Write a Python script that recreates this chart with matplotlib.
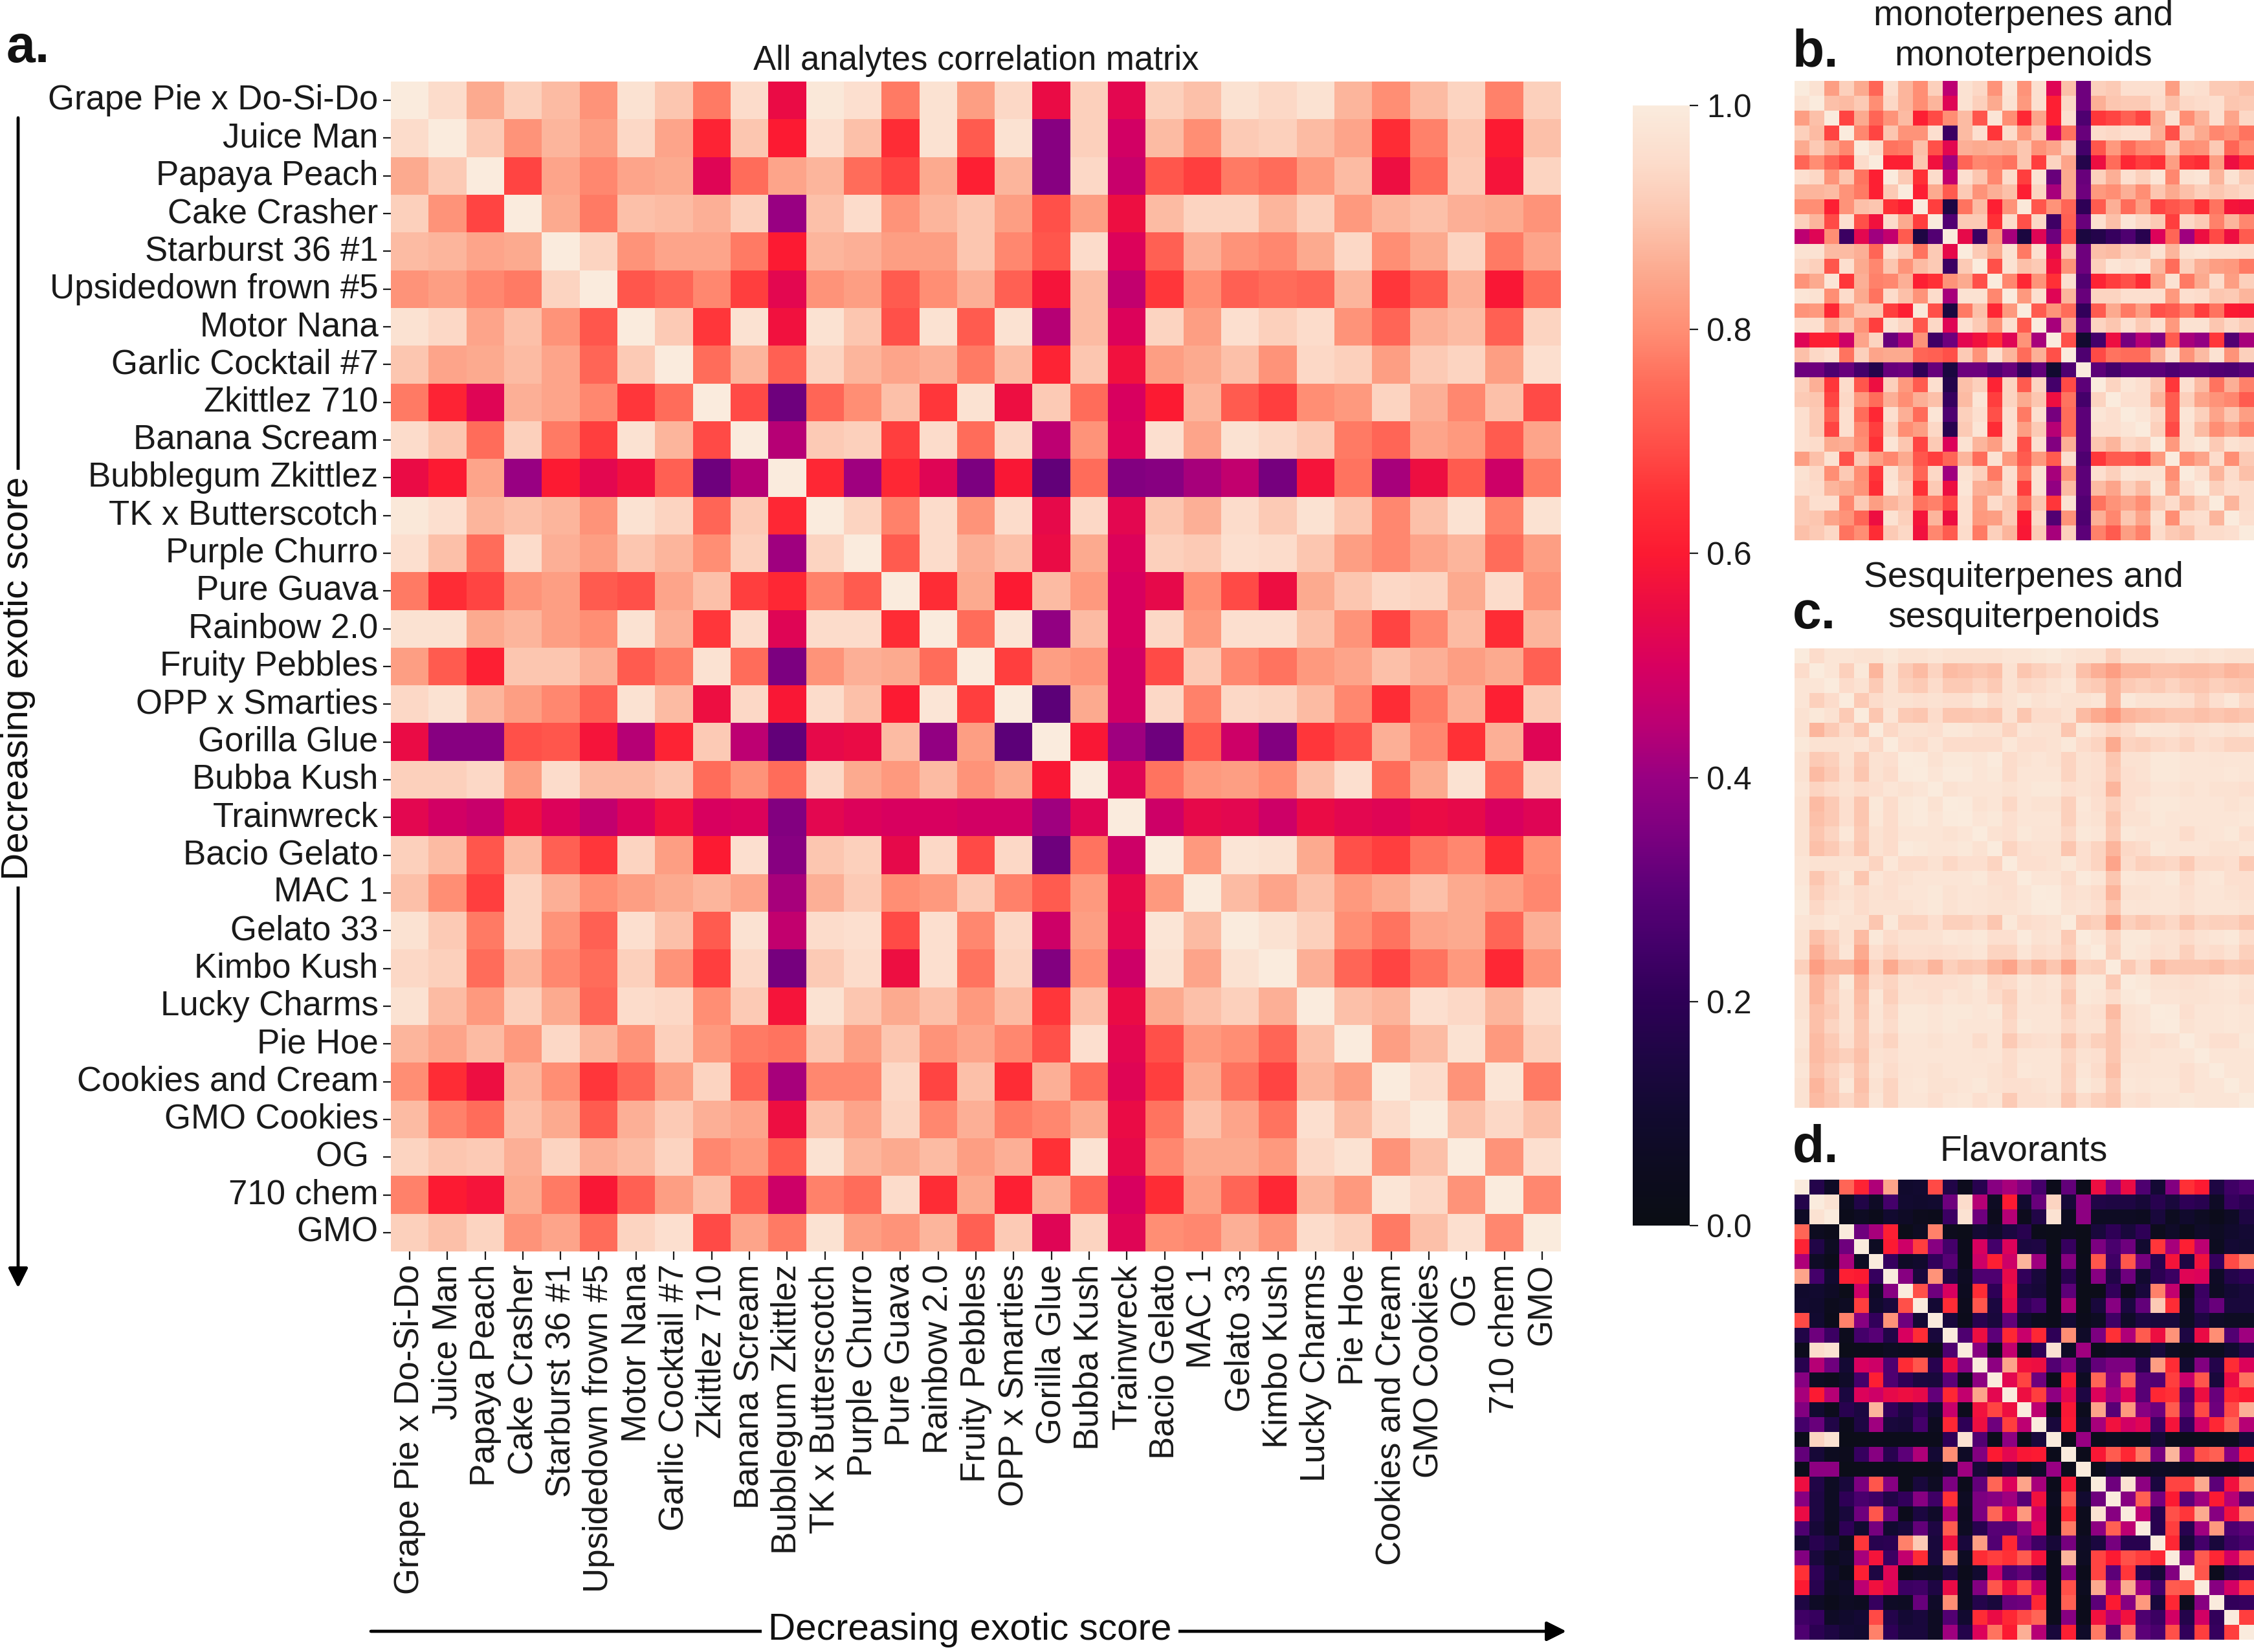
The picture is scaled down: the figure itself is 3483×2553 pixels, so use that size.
import matplotlib
matplotlib.use('Agg')
import matplotlib.pyplot as plt
from matplotlib.colors import LinearSegmentedColormap
import numpy as np
import seaborn as sns

plt.rcParams['font.family'] = ['Liberation Sans', 'DejaVu Sans']

strains = ['Grape Pie x Do-Si-Do', 'Juice Man', 'Papaya Peach', 'Cake Crasher', 'Starburst 36 #1',
           'Upsidedown frown #5', 'Motor Nana', 'Garlic Cocktail #7', 'Zkittlez 710', 'Banana Scream',
           'Bubblegum Zkittlez', 'TK x Butterscotch', 'Purple Churro', 'Pure Guava', 'Rainbow 2.0',
           'Fruity Pebbles', 'OPP x Smarties', 'Gorilla Glue', 'Bubba Kush', 'Trainwreck',
           'Bacio Gelato', 'MAC 1', 'Gelato 33', 'Kimbo Kush', 'Lucky Charms', 'Pie Hoe',
           'Cookies and Cream', 'GMO Cookies', 'OG ', '710 chem', 'GMO']

# upper triangles, percent, each row starts on the diagonal
all_upper = [
[100,95,85,92,88,81,97,90,77,95,55,99,96,77,97,83,94,55,92,53,92,89,97,94,97,87,80,88,93,78,92],
[100,91,81,87,83,94,84,62,90,60,96,89,64,97,72,97,37,92,49,88,80,91,92,88,84,64,78,90,60,89],
[100,68,84,79,84,85,52,75,84,87,75,68,85,61,87,37,94,47,71,67,77,75,82,88,56,75,91,58,93],
[100,85,77,89,88,86,92,40,89,95,81,87,90,83,70,83,56,88,93,93,87,92,82,87,89,86,85,81],
[100,93,81,84,84,77,60,87,86,83,83,90,79,71,95,51,73,86,81,79,85,94,80,85,93,77,84],
[100,71,74,79,67,53,81,83,72,80,86,73,58,88,46,66,80,73,75,74,87,66,72,86,59,75],
[100,91,66,97,57,97,90,70,97,72,97,44,88,51,93,83,96,92,95,81,74,86,88,73,93],
[100,75,87,73,93,87,84,86,77,88,62,90,57,83,85,89,81,94,92,83,91,93,83,96],
[100,69,33,74,80,89,66,97,56,91,75,50,60,87,72,67,80,82,93,86,79,89,69],
[100,44,91,92,67,95,75,94,45,81,51,96,84,97,94,91,77,74,84,82,72,84],
[100,63,41,63,52,35,59,31,75,36,37,42,46,34,58,76,42,56,72,48,77],
[100,93,78,95,81,95,54,94,53,90,86,95,91,97,90,79,89,97,78,97],
[100,72,95,86,89,55,85,51,92,91,96,95,90,83,79,84,87,75,83],
[100,64,85,60,88,82,50,54,80,69,56,85,90,94,93,85,95,81],
[100,75,98,39,88,50,94,82,96,96,89,81,68,79,88,64,87],
[100,67,83,81,49,69,91,79,76,82,84,89,86,83,85,73],
[100,30,85,49,94,78,94,93,88,79,64,77,86,61,91],
[100,59,41,33,72,48,36,66,70,86,79,65,86,52],
[100,52,76,82,83,80,89,96,75,85,97,74,93],
[100,48,54,53,48,55,53,52,55,54,50,52],
[100,82,98,97,85,70,67,76,79,64,80],
[100,88,84,89,82,85,89,85,83,79],
[100,97,92,80,76,84,85,74,86],
[100,86,74,68,76,82,63,81],
[100,89,87,96,94,87,95],
[100,83,88,97,82,92],
[100,95,81,98,77],
[100,89,94,89],
[100,81,96],
[100,79],
[100],
]

mono_upper = [
[100,97,83,92,85,74,96,87,80,92,45,97,94,81,98,81,96,52,89,33,92,91,96,96,96,83,97,96,91,91,89],
[100,89,88,91,80,94,87,80,87,52,97,92,85,97,82,96,61,94,33,86,90,91,91,95,89,94,95,96,90,91],
[100,68,85,74,81,88,61,69,80,88,71,98,80,63,84,61,96,27,66,68,73,68,85,97,80,87,96,84,94],
[100,79,68,90,81,81,96,23,88,96,66,95,82,90,48,76,32,95,94,96,96,86,70,91,85,79,81,76],
[100,95,76,77,89,70,53,86,85,86,85,90,81,84,92,25,71,82,75,79,80,91,80,81,91,74,80],
[100,61,61,90,57,41,74,79,78,76,90,67,93,84,17,56,75,63,67,65,83,66,64,83,56,64],
[100,91,65,95,46,96,90,79,95,67,97,32,85,32,92,86,96,92,98,79,97,98,87,97,91],
[100,61,85,72,91,81,86,89,61,93,42,85,33,82,80,86,80,90,85,89,92,90,92,94],
[100,67,15,76,88,61,81,99,71,81,74,20,72,86,75,83,68,71,74,65,76,58,57],
[100,28,91,91,65,95,70,94,24,73,32,96,89,98,94,91,67,94,91,78,87,79],
[100,54,23,81,42,14,52,33,70,14,17,22,27,18,51,74,41,56,69,56,72],
[100,91,85,97,77,96,53,91,33,89,88,92,91,97,87,97,98,96,96,95],
[100,70,97,89,91,57,81,33,92,98,96,98,87,75,92,86,83,82,77],
[100,79,63,81,65,96,28,62,67,70,64,83,97,77,85,95,83,92],
[100,82,96,52,87,32,93,93,96,96,96,82,96,95,90,91,87],
[100,72,81,75,21,72,85,77,83,70,72,77,67,76,60,59],
[100,42,86,31,93,90,96,91,96,82,97,97,90,94,91],
[100,70,10,25,56,34,44,36,72,42,39,66,28,42],
[100,27,69,76,75,75,86,96,81,88,97,81,92],
[100,30,25,30,30,30,27,30,30,28,27,30],
[100,93,98,96,90,66,96,88,76,86,78],
[100,96,96,87,72,92,84,81,79,72],
[100,98,94,72,98,92,84,90,83],
[100,92,69,97,88,80,84,78],
[100,82,97,99,91,97,95],
[100,80,84,95,80,91],
[100,96,87,95,89],
[100,92,96,95],
[100,87,95],
[100,96],
[100],
]

sesq_upper = [
[100,95,98,98,97,97,99,97,97,98,97,97,97,97,98,98,99,99.5,98,97,97,92,97,97,97,98,98,97,98,97,97],
[100,98,92,99,87,97,91,88,93,88,89,90,89,97,90,92,94,97,89,86,83,87,87,89,89,88,88,89,87,88],
[100,95,97,91,97,92,91,95,91,91,93,91,97,94,95,97,98.5,92,91,87,91,92,91,93,91,90,92,91,90],
[100,91,95,97,97,96,97,96,96,98.5,95,97,99,97,98,97,97,98,87,99,97,97,97,96,92,96,98.5,94],
[100,90,98,91,90,95,90,90,91,90,97,90,95,95,97,88,85,82,87,88,89,90,90,89,90,89,90],
[100,94,97,97,96,99,98.5,97,97,93,98,97,97,90,99,96,93,95,98.5,98,98,96,97,98,97,98],
[100,96,95,98,95,95,95,95,98.5,96,96,97,99,95,93,85,93,92,94,95,93,96,95,93,93],
[100,99.5,97,99,99,98,99.5,95,97,98,97,93,97,96,90,97,97,99,99,98,98,97.5,98,98],
[100,98,99.5,99.5,98,99,95,98,98,98,93,97,96,91,96,97,99,99,98,98,98,98.5,98],
[100,97,98,98,98,97,98,99,99,96,97,95.5,87,96,96,98,98,97,98,97,97,96],
[100,99.5,97,98,94,98,97,97,92,98.5,96,92,96,98,99,99,98,98,98,97,98],
[100,98,99,96,98,98,98,92,98,97,90,97,97,99,98,98,98,98,98,98.5],
[100,97,96,99,97.5,97.5,94,99,98,91,99,98,98,98,95,97.5,98,99,96],
[100,93,96,97,97,90,96,93,87,94,95,99,98,98,98,97,97,98],
[100,96,96,97,99,96,93,84,95,92,93,94,91,95,95,96,91],
[100,98,98,95,99.5,98,90,98.5,98,98,99,95,98,98.5,96,96],
[100,99.5,96,97,95,87,97,97,98,98,96,98,98,97,96],
[100,97,97.5,96,90,98,97.5,98,98,96.5,98,98,98,97],
[100,91,92,84,92,90,92,94,90,93,92,92.5,90],
[100,98,93,99,99,97,97,95,97,98,99,95],
[100,92,99,98,96,97,92,96,95,97,92],
[100,91,95,88,90,90,90,89,91,90],
[100,99,97,97,96,97,98,98.5,97],
[100,97.5,97.5,97,97,97.5,98,96],
[100,99.5,96,98,98,98.5,98],
[100,97,98,98,98.5,98],
[100,98,96,96,99],
[100,98,98,98],
[100,98,98],
[100,98],
[100],
]

flav_upper = [
[100,17,7,74,62,43,84,9,10,69,16,4,18,37,42,36,25,3,31,3,56,37,55,27,11,36,65,60,15,24,27],
[100,97,5,16,7,25,10,9,10,33,95,44,6,60,10,32,93,12,38,16,15,15,12,18,13,20,18,7,22,19],
[100,3,6,3,10,7,4,3,23,97,33,4,44,4,16,97,5,38,6,6,6,5,13,5,9,6,3,7,15],
[100,33,42,61,2,6,78,4,2,11,8,14,18,3,2,4,2,13,20,13,20,4,8,3,8,6,9,11],
[100,6,60,48,67,37,25,3,50,25,51,14,15,2,22,2,35,26,33,10,66,42,61,45,5,11,10],
[100,22,7,9,21,29,3,48,61,48,87,41,3,37,3,71,24,71,34,18,58,15,57,22,69,78],
[100,37,13,81,16,6,27,27,54,21,13,3,18,3,37,16,33,10,19,23,52,51,7,17,20],
[100,70,33,50,5,64,20,56,14,12,3,30,2,2,21,3,13,78,46,3,23,6,11,13],
[100,11,64,4,71,14,54,21,25,3,43,2,13,37,14,31,91,64,7,24,32,13,13],
[100,13,3,18,13,31,10,5,3,11,3,6,24,8,15,13,13,6,15,8,6,6],
[100,27,56,30,63,47,63,20,80,8,35,65,43,72,56,81,15,55,80,28,41],
[100,37,4,46,4,20,97,7,41,3,6,5,6,13,6,3,5,5,10,17],
[100,38,84,57,56,28,36,12,31,35,35,18,83,64,10,36,17,64,51],
[100,53,68,33,3,60,6,74,37,74,29,28,67,47,71,13,55,76],
[100,56,67,38,53,15,51,41,51,29,63,65,27,56,32,63,60],
[100,45,3,59,4,84,29,82,37,33,72,31,69,33,69,86],
[100,13,60,8,42,57,49,52,24,58,22,48,63,74,44],
[100,3,40,3,5,3,3,12,3,3,3,3,4,13],
[100,3,59,72,63,77,34,87,37,70,73,37,61],
[100,3,10,4,4,7,6,3,5,3,3,8],
[100,33,97,38,14,68,68,85,30,57,77],
[100,37,73,34,60,30,41,60,44,28],
[100,45,18,70,66,85,37,57,78],
[100,18,67,18,41,82,27,30],
[100,63,12,25,13,23,26],
[100,36,72,63,49,70],
[100,71,4,17,21],
[100,37,49,67],
[100,21,22],
[100,67],
[100],
]

W, H = 3483, 2553


def to_matrix(upper):
	n = len(upper)
	m = np.zeros((n, n))
	for i, row in enumerate(upper):
		m[i, i:] = row
		m[i:, i] = row
	return m / 100.0


def px_axes(left, top, right, bottom):
	return fig.add_axes([left / W, 1 - bottom / H, (right - left) / W, (bottom - top) / H])


# colours
stops = [(0.0, '#0b0d14'), (0.05, '#0d0c20'), (0.1, '#120a30'), (0.15, '#1e0644'), (0.2, '#2e0056'),
         (0.25, '#44006a'), (0.3, '#5c0078'), (0.35, '#7c0080'), (0.4, '#980082'), (0.45, '#bd0072'),
         (0.5, '#d80060'), (0.55, '#ea0b45'), (0.6, '#fc1a32'), (0.65, '#ff3036'), (0.7, '#ff5049'),
         (0.75, '#ff6b59'), (0.8, '#ff8e74'), (0.85, '#fca98e'), (0.9, '#fcc6b0'), (0.95, '#fcdccb'),
         (1.0, '#faebdd')]
cmap = LinearSegmentedColormap.from_list('printed_rocket', stops, N=512)

fig = plt.figure(figsize=(W / 100, H / 100), dpi=100)

#main heatmap
ax_a = px_axes(604, 126, 2412, 1934)
cax = px_axes(2523, 163, 2611, 1894)
sns.heatmap(to_matrix(all_upper), ax=ax_a, cmap=cmap, vmin=0, vmax=1, cbar_ax=cax,
            xticklabels=strains, yticklabels=strains)
ax_a.set_xticklabels(strains, rotation=90, fontsize=38)
ax_a.set_yticklabels(strains, rotation=0, fontsize=38)
ax_a.tick_params(axis='both', length=9, width=1.6, pad=5, color='#1a1a1a', labelcolor='#1a1a1a')
ax_a.set_title('All analytes correlation matrix', fontsize=38, color='#1a1a1a', pad=13)

cax.set_yticks([0, 0.2, 0.4, 0.6, 0.8, 1.0])
cax.set_yticklabels(['0.0', '0.2', '0.4', '0.6', '0.8', '1.0'], fontsize=36, color='#1a1a1a')
cax.tick_params(axis='y', length=9, width=1.6, pad=10, color='#1a1a1a')
for s in cax.spines.values():
	s.set_visible(False)

#small panels
ax_b = px_axes(2773, 125, 3483, 835)
ax_c = px_axes(2773, 1002, 3483, 1712)
ax_d = px_axes(2773, 1823, 3483, 2534)
for ax, upper in ((ax_b, mono_upper), (ax_c, sesq_upper), (ax_d, flav_upper)):
	sns.heatmap(to_matrix(upper), ax=ax, cmap=cmap, vmin=0, vmax=1, cbar=False,
	            xticklabels=False, yticklabels=False)

fig.text(3127 / W, 1 - 56 / H, 'monoterpenes and\nmonoterpenoids', ha='center', va='center',
         fontsize=40, color='#1a1a1a', linespacing=1.24)
fig.text(3127 / W, 1 - 924 / H, 'Sesquiterpenes and\nsesquiterpenoids', ha='center', va='center',
         fontsize=40, color='#1a1a1a', linespacing=1.24)
fig.text(3127 / W, 1 - 1780 / H, 'Flavorants', ha='center', va='center', fontsize=40, color='#1a1a1a')

#panel letters
for label, lx, ly in (('a.', 10, 75), ('b.', 2770, 81), ('c.', 2770, 950), ('d.', 2770, 1774)):
	fig.text(lx / W, 1 - ly / H, label, ha='left', va='center', fontsize=58, fontweight='bold', color='#111111')

#exotic score arrows
arrow = dict(arrowstyle='-|>', color='black', lw=3.2, mutation_scale=46, shrinkA=0, shrinkB=0)
fig.add_artist(plt.annotate('', xy=(2420 / W, 1 - 2521 / H), xytext=(573 / W, 1 - 2521 / H),
                            xycoords='figure fraction', textcoords='figure fraction', arrowprops=arrow))
fig.text(1499 / W, 1 - 2519 / H, 'Decreasing exotic score', ha='center', va='center', fontsize=42, color='#111111',
         bbox=dict(facecolor='white', edgecolor='none', pad=7))
fig.add_artist(plt.annotate('', xy=(28 / W, 1 - 1990 / H), xytext=(28 / W, 1 - 182 / H),
                            xycoords='figure fraction', textcoords='figure fraction', arrowprops=arrow))
fig.text(28 / W, 1 - 1048 / H, 'Decreasing exotic score', ha='center', va='center', rotation=90, fontsize=42,
         color='#111111', bbox=dict(facecolor='white', edgecolor='none', pad=7))

plt.savefig('out.png', dpi=100)
